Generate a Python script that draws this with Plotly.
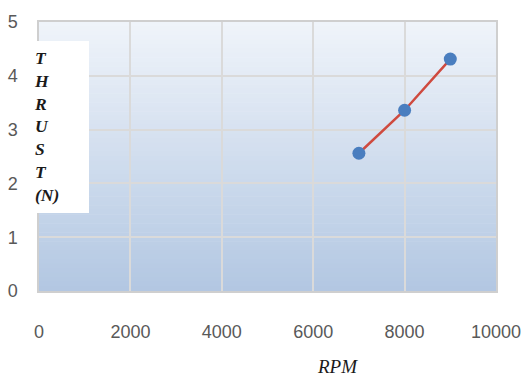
import plotly.graph_objects as go

# Thrust measured at each motor speed
rpm = [7000, 8000, 9000]
thrust_n = [2.56, 3.36, 4.31]

x_ticks = [0, 2000, 4000, 6000, 8000, 10000]
y_ticks = [0, 1, 2, 3, 4, 5]

fig = go.Figure()

fig.add_trace(go.Scatter(
    x=rpm, y=thrust_n,
    mode="lines+markers",
    line=dict(color="#cf4a3f", width=2.5),
    marker=dict(color="#4a7ebf", size=13),
    showlegend=False,
))

# Vertical gradient fill for the plot area (light at top, blue at bottom)
top = (240, 244, 250)
bottom = (178, 199, 226)
steps = 60
shapes = []
for i in range(steps):
    t = (i + 0.5) / steps
    c = tuple(round(top[k] + (bottom[k] - top[k]) * t) for k in range(3))
    shapes.append(dict(
        type="rect", xref="paper", yref="paper",
        x0=0, x1=1, y0=1 - (i + 1) / steps, y1=1 - i / steps + 0.002,
        fillcolor="rgb(%d,%d,%d)" % c, line=dict(width=0), layer="below",
    ))

# White box behind the stacked axis title
shapes.append(dict(
    type="rect", xref="paper", yref="paper",
    x0=-0.0263, x1=0.1094, y0=0.29, y1=0.929,
    fillcolor="white", line=dict(width=0), layer="above",
))

fig.update_layout(
    width=525, height=379,
    margin=dict(l=39, r=29, t=22, b=88),
    paper_bgcolor="white",
    plot_bgcolor="white",
    shapes=shapes,
    font=dict(family="Liberation Sans", size=18, color="#595959"),
    annotations=[
        dict(
            text="<b><i>T<br>H<br>R<br>U<br>S<br>T<br>(N)</i></b>",
            xref="paper", yref="paper", x=-0.0153, y=0.91,
            xanchor="left", yanchor="top", align="left", showarrow=False,
            font=dict(family="Liberation Serif", size=17.5, color="#1a1a1a"),
        ),
        dict(
            text="<i>RPM</i>",
            xref="paper", yref="paper", x=0.654, y=-0.3234,
            xanchor="center", yanchor="bottom", showarrow=False, borderpad=0,
            font=dict(family="Liberation Serif", size=19, color="#1a1a1a"),
        ),
    ],
    xaxis=dict(
        range=[0, 10000], tickvals=x_ticks, ticktext=[str(v) for v in x_ticks],
        showgrid=True, gridcolor="#dadada", gridwidth=1.5,
        zeroline=False, showline=True, linecolor="#cfcfcf", linewidth=1.5,
        mirror=True, ticks="", ticklabelstandoff=24, automargin=False,
    ),
    yaxis=dict(
        range=[0, 5], tickvals=y_ticks, ticktext=[str(v) for v in y_ticks],
        showgrid=True, gridcolor="#dadada", gridwidth=1.5,
        zeroline=False, showline=True, linecolor="#cfcfcf", linewidth=1.5,
        mirror=True, ticks="", ticklabelstandoff=16, automargin=False,
    ),
)

fig.write_html("out.html")
